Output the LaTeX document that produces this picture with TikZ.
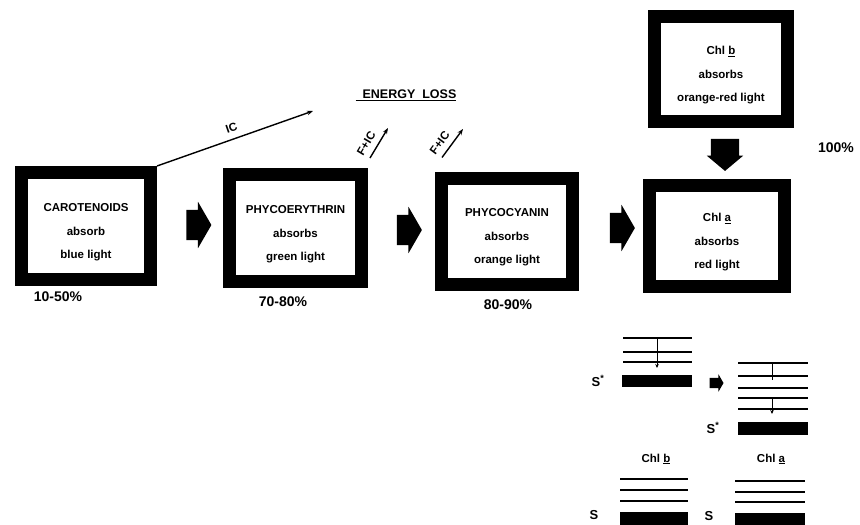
\documentclass[tikz,border=0pt]{standalone}
\usepackage{fontspec}
\setmainfont{Liberation Sans}
\usetikzlibrary{arrows.meta,calc,positioning,shapes.arrows}

\newcommand\phup{\rule{0pt}{21pt}}

\tikzset{
  ph box/.style={draw=black, line width=13pt, fill=white, align=center,
    minimum width=130pt, minimum height=106pt,
    font=\fontsize{11.5}{23.5}\selectfont\bfseries},
  ph flow/.style={single arrow, fill=black, draw=none, inner xsep=0pt,
    inner ysep=15pt, single arrow head extend=8pt, single arrow tip angle=120,
    minimum height=25pt},
  ph loss/.style={-{Stealth[length=6pt,width=4.5pt]}, line width=1.4pt},
  ph label/.style={font=\fontsize{11.5}{13}\selectfont\bfseries, inner sep=2pt},
  ph pct/.style={font=\fontsize{14}{16}\selectfont\bfseries},
  ph level/.style={line width=2.4pt},
  ph tick/.style={line width=0.9pt, -{Stealth[length=4pt,width=3.5pt]}}
}

\begin{document}
\begin{tikzpicture}[x=1pt, y=-1pt]
  \useasboundingbox (0,0) rectangle (860,525);

  % pigment boxes
  \node[ph box, minimum width=129pt, minimum height=107pt] (car) at (86,226)
    {\phup CAROTENOIDS\\absorb\\blue light};
  \node[ph box, minimum width=132pt, minimum height=107pt] (phe) at (295.5,228)
    {\phup PHYCOERYTHRIN\\absorbs\\green light};
  \node[ph box, minimum width=131pt, minimum height=106pt] (phc) at (507,231)
    {\phup PHYCOCYANIN\\absorbs\\orange light};
  \node[ph box, minimum width=135pt, minimum height=101pt] (chla) at (717,236)
    {\phup Chl \underline{a}\\absorbs\\red light};
  \node[ph box, minimum width=133pt, minimum height=105pt] (chlb) at (721,69)
    {\phup Chl \underline{b}\\absorbs\\orange-red light};

  % transfer arrows
  \node[ph flow] (t1) at (194.5,225) {};
  \node[ph flow] (t2) at (405,230) {};
  \node[ph flow] (t3) at (618,228) {};
  \node[ph flow, rotate=-90, minimum height=32pt, inner ysep=14pt,
    single arrow head extend=4pt, single arrow tip angle=100] (t4) at (725,149) {};

  % energy loss
  \node[ph label, font=\fontsize{12.5}{14}\selectfont\bfseries] (loss) at (406,95)
    {\underline{\ \ ENERGY\ \ LOSS}};
  \coordinate (icend) at (313,111);
  \coordinate (fe1) at (388,128);
  \coordinate (fe2) at (463,129);
  \draw[ph loss] (car.north east) -- node[ph label, sloped, above=4pt] {IC} (icend);
  \draw[ph loss] ([xshift=2pt,yshift=10pt]phe.north east)
    -- node[ph label, sloped, above=4pt, pos=0.3] {F+IC} (fe1);
  \draw[ph loss] ([xshift=7pt,yshift=14pt]phc.north west)
    -- node[ph label, sloped, above=4pt, pos=0.3] {F+IC} (fe2);

  % efficiencies
  \node[ph pct] (p1) at (58,297) {10-50\%};
  \node[ph pct] (p2) at (283,302) {70-80\%};
  \node[ph pct] (p3) at (508,305) {80-90\%};
  \node[ph pct] (p4) at (836,148) {100\%};

  % energy levels, Chl b excited
  \foreach \y in {338,352,362} \draw[ph level] (623,\y) -- (692,\y);
  \fill (622,375) rectangle (692,387);
  \draw[ph tick] (657,338) -- (657,368);
  \node[ph label, font=\fontsize{13}{14}\selectfont\bfseries] (sb) at (598,381) {S\textsuperscript{*}};
  \node[ph flow, minimum height=14pt, inner ysep=5pt,
    single arrow head extend=3.5pt] (t5) at (715,383) {};

  % energy levels, Chl a excited
  \foreach \y in {363,376,388,398,409} \draw[ph level] (738,\y) -- (808,\y);
  \fill (738,422) rectangle (808,435);
  \draw[line width=0.9pt] (772,363) -- (772,380);
  \draw[ph tick] (772,398) -- (772,414);
  \node[ph label, font=\fontsize{13}{14}\selectfont\bfseries] (sa) at (713,428) {S\textsuperscript{*}};

  % ground states
  \node[ph label] (gb) at (656,459) {Chl \underline{b}};
  \node[ph label] (ga) at (771,459) {Chl \underline{a}};
  \foreach \y in {479,490,501} \draw[ph level] (620,\y) -- (688,\y);
  \fill (620,512) rectangle (688,530);
  \foreach \y in {481,492,502} \draw[ph level] (735,\y) -- (805,\y);
  \fill (735,513) rectangle (805,530);
  \node[ph label, font=\fontsize{13}{14}\selectfont\bfseries] (s0b) at (594,515) {S};
  \node[ph label, font=\fontsize{13}{14}\selectfont\bfseries] (s0a) at (709,516) {S};
\end{tikzpicture}
\end{document}
